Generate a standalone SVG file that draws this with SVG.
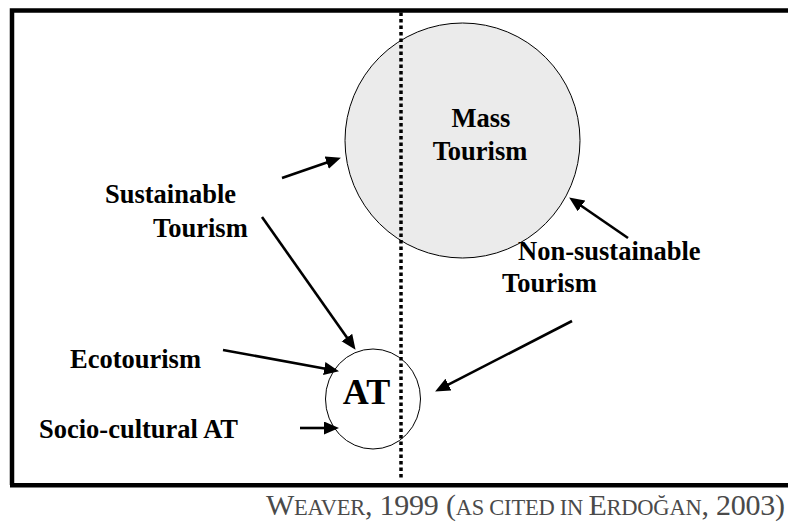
<svg xmlns="http://www.w3.org/2000/svg" width="788" height="522" viewBox="0 0 788 522">
<style>
.lbl{font-family:"Liberation Serif","Times New Roman",serif;font-weight:bold;font-size:26.5px;fill:#000}
.conn{stroke:#000;stroke-width:2.6;fill:none}
.cite{font-family:"Liberation Serif","Times New Roman",serif;fill:#4a4a4a}
</style>
<defs>
<marker id="ah" markerUnits="userSpaceOnUse" markerWidth="16" markerHeight="14" refX="4" refY="6.5" orient="auto">
<path d="M0,0 L15,6.5 L0,13 z" fill="#000"/>
</marker>
</defs>
<rect width="788" height="522" fill="#fff"/>
<g id="frame" fill="none" stroke="#000" stroke-width="4.5">
<path d="M12,485 L12,10.5 L792,10.5"/>
<path d="M10,485.3 L792,485.3"/>
</g>
<g id="mass-tourism">
<circle cx="462.5" cy="140.5" r="117.5" fill="#ebebeb" stroke="#000" stroke-width="1"/>
<text class="lbl" x="481" y="127" text-anchor="middle">Mass</text>
<text class="lbl" x="480" y="160" text-anchor="middle">Tourism</text>
</g>
<g id="divider">
<line x1="401" y1="12.5" x2="401" y2="478" stroke="#000" stroke-width="3.5" stroke-dasharray="3.5 3"/>
</g>
<g id="at">
<ellipse cx="373" cy="399" rx="47.5" ry="50" fill="none" stroke="#000" stroke-width="1"/>
<text class="lbl" x="366.5" y="404" text-anchor="middle" style="font-size:36px">AT</text>
</g>
<g id="sustainable-tourism">
<text class="lbl" x="105" y="203">Sustainable</text>
<text class="lbl" x="153" y="237">Tourism</text>
</g>
<g id="non-sustainable-tourism">
<text class="lbl" x="518" y="260">Non-sustainable</text>
<text class="lbl" x="502" y="292">Tourism</text>
</g>
<g id="ecotourism">
<text class="lbl" x="70" y="368">Ecotourism</text>
</g>
<g id="socio-cultural-at">
<text class="lbl" x="39" y="438">Socio-cultural AT</text>
</g>
<g id="connectors" class="conn">
<line class="conn" x1="282" y1="178" x2="330.5" y2="161.3" marker-end="url(#ah)"/>
<line class="conn" x1="262" y1="217" x2="349.2" y2="340.8" marker-end="url(#ah)"/>
<line class="conn" x1="223" y1="350" x2="328.2" y2="369.2" marker-end="url(#ah)"/>
<line class="conn" x1="300" y1="428" x2="328" y2="428" marker-end="url(#ah)"/>
<line class="conn" x1="628" y1="238" x2="578.2" y2="203.7" marker-end="url(#ah)"/>
<line class="conn" x1="572" y1="321" x2="444.9" y2="386.4" marker-end="url(#ah)"/>
</g>
<g id="citation">
<text class="cite" x="266" y="515" textLength="519" lengthAdjust="spacing"><tspan font-size="30">W</tspan><tspan font-size="22.5">EAVER</tspan><tspan font-size="30">, 1999 (</tspan><tspan font-size="22.5">AS CITED IN </tspan><tspan font-size="30">E</tspan><tspan font-size="22.5">RDOĞAN</tspan><tspan font-size="30">, 2003)</tspan></text>
</g>
</svg>
